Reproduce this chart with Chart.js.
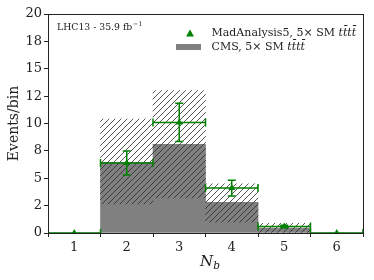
<!DOCTYPE html>
<html>
<head>
<meta charset="utf-8">
<script src="https://cdn.jsdelivr.net/npm/chart.js@4"></script>
<style>
html, body { margin: 0; padding: 0; background: #fff; }
#wrap { width: 374px; height: 280px; }
</style>
</head>
<body>
<div id="wrap"><canvas id="myChart"></canvas></div>
<script>
// bins of N_b
const nbBins = [1, 2, 3, 4, 5, 6];
const binHalfWidth = [0.5, 0.5, 0.5, 0.5, 0.5, 0.5];

// CMS histogram + hatched uncertainty band
const cmsValues = [0, 6.45, 8.1, 2.8, 0.45, 0];
const cmsBandLow = [0, 2.65, 3.2, 1.0, 0, 0];
const cmsBandHigh = [0, 10.4, 13.0, 4.5, 0.88, 0];

// MadAnalysis5 points and errors
const ma5Values = [0, 6.4, 10.1, 4.1, 0.6, 0];
const ma5Err = [0, 1.1, 1.75, 0.72, 0.1, 0];

// y tick labels (printed rounded, as in the original)
const yTickLabels = ['0', '2', '5', '8', '10', '12', '15', '18', '20'];

const GREEN = 'rgb(0,128,0)';
const GREY = '#808080';
const INK = '#222';
const SERIF = '"DejaVu Serif", serif';

//diagonal hatch pattern "///"
function makeHatch() {
  const s = 6;
  const c = document.createElement('canvas');
  c.width = s; c.height = s;
  const g = c.getContext('2d');
  g.strokeStyle = '#2a2a2a';
  g.lineWidth = 0.8;
  g.beginPath();
  g.moveTo(-1, s + 1); g.lineTo(s + 1, -1);
  g.moveTo(-1, 1); g.lineTo(1, -1);
  g.moveTo(s - 1, s + 1); g.lineTo(s + 1, s - 1);
  g.stroke();
  return g.createPattern(c, 'repeat');
}
const hatch = makeHatch();

//frame, error bars, legend and the texts
const extras = {
  id: 'extras',
  afterDatasetsDraw(chart) {
    const ctx = chart.ctx;
    const xs = chart.scales.x, ys = chart.scales.y;
    const a = chart.chartArea;

    // error bars
    ctx.save();
    ctx.beginPath();
    ctx.rect(a.left, a.top, a.right - a.left, a.bottom - a.top + 1);
    ctx.clip();
    ctx.strokeStyle = GREEN;
    ctx.lineWidth = 1.5;
    const cap = 4;
    nbBins.forEach((b, i) => {
      const x0 = xs.getPixelForValue(b - binHalfWidth[i]);
      const x1 = xs.getPixelForValue(b + binHalfWidth[i]);
      const xc = xs.getPixelForValue(b);
      const y = ys.getPixelForValue(ma5Values[i]);
      ctx.beginPath();
      ctx.moveTo(x0, y); ctx.lineTo(x1, y);
      ctx.moveTo(x0, y - cap); ctx.lineTo(x0, y + cap);
      ctx.moveTo(x1, y - cap); ctx.lineTo(x1, y + cap);
      if (ma5Err[i] > 0) {
        const yl = ys.getPixelForValue(ma5Values[i] - ma5Err[i]);
        const yh = ys.getPixelForValue(ma5Values[i] + ma5Err[i]);
        ctx.moveTo(xc, yl); ctx.lineTo(xc, yh);
        ctx.moveTo(xc - cap, yl); ctx.lineTo(xc + cap, yl);
        ctx.moveTo(xc - cap, yh); ctx.lineTo(xc + cap, yh);
      }
      ctx.stroke();
    });
    ctx.restore();

    // frame
    ctx.save();
    ctx.strokeStyle = INK;
    ctx.lineWidth = 1;
    ctx.strokeRect(Math.round(a.left) + 0.5, Math.round(a.top) + 0.5,
      Math.round(a.right - a.left), Math.round(a.bottom - a.top));
    ctx.restore();

    // legend
    ctx.save();
    ctx.fillStyle = GREEN;
    ctx.beginPath();
    ctx.moveTo(190, 29.5); ctx.lineTo(194, 36.5); ctx.lineTo(186, 36.5);
    ctx.closePath(); ctx.fill();
    ctx.fillStyle = GREY;
    ctx.fillRect(176, 44, 25, 6);
    ctx.fillStyle = INK;
    ctx.textBaseline = 'middle';
    ctx.font = '11px ' + SERIF;
    let t1 = 'MadAnalysis5, 5\u00d7 SM ';
    ctx.fillText(t1, 211.5, 33);
    let w1 = ctx.measureText(t1).width;
    let t2 = 'CMS, 5\u00d7 SM ';
    ctx.fillText(t2, 211.5, 47);
    let w2 = ctx.measureText(t2).width;
    ctx.font = 'italic 11px ' + SERIF;
    ctx.fillText('tt\u0304tt\u0304', 211.5 + w1, 33);
    ctx.fillText('tt\u0304tt\u0304', 211.5 + w2, 47);

    // LHC label
    ctx.font = '9.3px ' + SERIF;
    const lhc = 'LHC13 - 35.9 fb';
    ctx.fillText(lhc, 57, 28);
    const lw = ctx.measureText(lhc).width;
    ctx.font = '6.5px ' + SERIF;
    ctx.fillText('\u22121', 57 + lw + 0.5, 24);

    // x title N_b
    ctx.font = 'italic 15px ' + SERIF;
    ctx.textBaseline = 'alphabetic';
    ctx.fillText('N', 200, 266);
    const nw = ctx.measureText('N').width;
    ctx.font = 'italic 10.5px ' + SERIF;
    ctx.fillText('b', 200 + nw, 269);

    // y title
    ctx.translate(14, (a.top + a.bottom) / 2);
    ctx.rotate(-Math.PI / 2);
    ctx.textAlign = 'center';
    ctx.textBaseline = 'middle';
    ctx.font = '14px ' + SERIF;
    ctx.fillText('Events/bin', 0, 0);
    ctx.restore();
  }
};

const config = {
  type: 'bar',
  data: {
    datasets: [{
      type: 'line',
      label: 'MadAnalysis5, 5x SM tttt',
      data: nbBins.map((x, i) => ({x: x, y: ma5Values[i]})),
      showLine: false,
      pointStyle: 'triangle',
      pointRadius: 4,
      pointBackgroundColor: GREEN,
      pointBorderColor: GREEN,
      pointBorderWidth: 0,
      order: 1
    }, {
      label: 'CMS band',
      data: nbBins.map((x, i) => ({x: x, y: [cmsBandLow[i], cmsBandHigh[i]]})),
      backgroundColor: hatch,
      borderWidth: 0,
      grouped: false,
      barPercentage: 1,
      categoryPercentage: 1,
      order: 2
    }, {
      label: 'CMS, 5x SM tttt',
      data: nbBins.map((x, i) => ({x: x, y: cmsValues[i]})),
      backgroundColor: GREY,
      borderWidth: 0,
      grouped: false,
      barPercentage: 1,
      categoryPercentage: 1,
      order: 3
    }]
  },
  plugins: [extras],
  options: {
    animation: false,
    responsive: true,
    maintainAspectRatio: false,
    layout: {padding: {top: 14, right: 11, left: 0, bottom: 0}},
    plugins: {legend: {display: false}, tooltip: {enabled: false}},
    scales: {
      x: {
        type: 'linear',
        min: 0.5,
        max: 6.5,
        offset: false,
        afterFit: (s) => { s.height = 47; },
        afterBuildTicks: (s) => { s.ticks = nbBins.map(v => ({value: v})); },
        grid: {drawOnChartArea: false, drawTicks: true, tickLength: 4, color: INK},
        border: {display: true, color: INK},
        ticks: {font: {family: SERIF, size: 13}, color: INK, padding: 3, maxRotation: 0}
      },
      y: {
        min: 0,
        max: 20,
        afterFit: (s) => { s.width = 48; },
        grid: {drawOnChartArea: false, drawTicks: true, tickLength: 4, color: INK},
        border: {display: true, color: INK},
        ticks: {
          stepSize: 2.5,
          font: {family: SERIF, size: 13},
          color: INK,
          padding: 2,
          callback: (v, i) => yTickLabels[i]
        }
      }
    }
  }
};

const ctx = document.getElementById('myChart').getContext('2d');
const myChart = new Chart(ctx, config);
</script>
</body>
</html>
